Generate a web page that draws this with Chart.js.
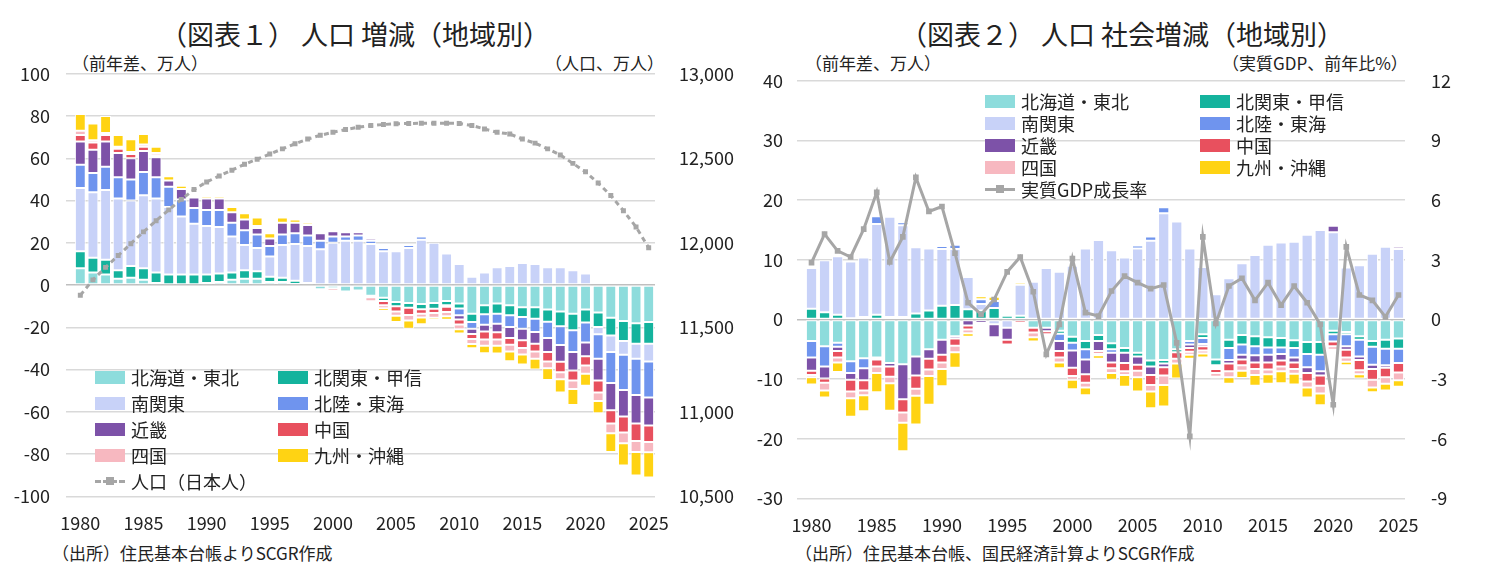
<!DOCTYPE html>
<html>
<head>
<meta charset="utf-8">
<script src="https://cdn.jsdelivr.net/npm/chart.js@4/dist/chart.umd.min.js"></script>
<style>
  body { margin: 0; width: 1499px; height: 583px; background: #fff; position: relative; overflow: hidden;
         font-family: "Noto Sans CJK JP", "Noto Sans", sans-serif; color: #222; }
  .t { position: absolute; white-space: nowrap; }
  .title { font-size: 27px; top: 14px; }
  .sub { font-size: 17px; top: 50px; }
  .src { font-size: 17px; top: 540px; }
  .cv { position: absolute; }
  .lg { position: absolute; font-size: 18px; }
  .lg div { position: absolute; white-space: nowrap; display: flex; align-items: center; }
  .sw { display: inline-block; width: 30px; height: 13px; margin-right: 6px; }
  .ln { display: inline-block; width: 30px; height: 12px; margin-right: 6px; position: relative; }
  .ln:before { content: ""; position: absolute; left: 0; right: 0; top: 5px; border-top: 3px solid #a6a6a6; }
  .ln:after { content: ""; position: absolute; left: 11px; top: 2px; width: 8px; height: 8px; background: #a6a6a6; }
  .ln.d:before { border-top: 3px dashed #a6a6a6; }
</style>
</head>
<body>
<div class="t title" style="left:160px">（図表１） 人口 増減（地域別）</div>
<div class="t title" style="left:900px">（図表２） 人口 社会増減（地域別）</div>
<div class="t sub" style="left:72px">（前年差、万人）</div>
<div class="t sub" style="left:545px">（人口、万人）</div>
<div class="t sub" style="left:805px">（前年差、万人）</div>
<div class="t sub" style="left:1222px">（実質GDP、前年比%）</div>
<div class="t src" style="left:52px">（出所）住民基本台帳よりSCGR作成</div>
<div class="t src" style="left:795px">（出所）住民基本台帳、国民経済計算よりSCGR作成</div>

<div class="cv" style="left:0;top:47px;width:745px;height:495px"><canvas id="c1"></canvas></div>
<div class="cv" style="left:745px;top:52px;width:754px;height:492px"><canvas id="c2"></canvas></div>

<div class="lg" id="lg1" style="left:95px;top:364px"></div>
<div class="lg" id="lg2" style="left:985px;top:88px"></div>

<script>
// 年
const years = [];
for (let y = 1980; y <= 2025; y++) years.push(String(y));

const regions = ['北海道・東北', '北関東・甲信', '南関東', '北陸・東海', '近畿', '中国', '四国', '九州・沖縄'];
const colors = ['#8ddcdc', '#14b39d', '#c8d2f8', '#6f94ee', '#7d52a8', '#e8505e', '#f7b8c0', '#ffd313'];

// 図表１：人口増減（前年差、万人）
const z1Tohoku = [8,6,5,3,3.5,2.5,1,0,0,0, 1,1.5,2.5,3,3,1.5,1.5,0.5,-0.3,-2, -1.5,-3,-2.5,-5,-6,-8,-8.5,-9,-8.5,-7.5, -8.7,-13.5,-9.5,-8.7,-9.5,-10.5,-10.5,-11.5,-12.5,-13.5, -11.5,-13,-15.5,-17,-18,-17.5];
const z1KitaKanto = [8,7,7,4,5.5,5.5,5,5,5,5, 4,4,3.5,4,3.5,2.5,2,1.5,1,0, 0,0,0,-0.7,-1.5,-2,-2.2,-2.4,-2.7,-2, -2.4,-4,-4.3,-4.8,-4.8,-4.6,-5.4,-5.9,-7,-7.9, -6.2,-6.8,-8.3,-9.5,-9.8,-10.3];
const z1MinamiKanto = [30,31,33,34,31,34.5,35,32,27.5,24, 23,22,17,12,11,9.5,15.5,17.5,17.5,17, 20,21,21,19.5,16,16,17.5,21.5,20,15, 10,4,6,8.5,9,10.5,10,8.5,8.5,7, 5.5,-3.5,-7.9,-6.5,-7.1,-8.4];
const z1Hokuriku = [11,9,11,10,10,11,10,9.5,8,7.5, 7.5,8,6.5,7,6.5,5,5,5,5,4, 3,2,2.5,1.5,1.5,1,1.5,1.5,0,-0.8, -3.2,-3.2,-5,-4.8,-5.5,-5.5,-6.3,-7.6,-8.9,-10.3, -9.5,-11.6,-14.6,-16.7,-17.1,-17];
const z1Kinki = [11,11,12,11.5,10,10,9.5,3,5,5, 5.5,5.5,5,5,3,3.5,5.5,5,5,3.5, 2.5,2,1.5,1,0,0,0,0,0,0, -2,-2.4,-3.2,-4,-5.2,-5.5,-5.5,-6.7,-7.9,-8.7, -6.5,-10.3,-12.9,-12.5,-13.5,-13.2];
const z1Chugoku = [3,3.5,3,2,2,2,1,0,0,0, 0,0,0,0,0.5,0,0,0,0,-0.5, -1,-1,-0.5,0,-2,-2.5,-3.5,-2.2,-2,-2.4, -2.4,-2.4,-3.8,-3.5,-3.2,-3.7,-3.7,-4.4,-5,-4.8, -4.3,-5.6,-6.3,-7.6,-8.3,-7.9];
const z1Shikoku = [2,1,1,1,1,1,1,0,0,0, 0,0,0,0,0.5,0,0,0,0,-0.8, 0,-0.8,-1,-2,-1.5,-2,-2.5,-1.7,-2.3,-2, -2.2,-2.4,-2.9,-2.9,-3.2,-3,-3.5,-3.2,-3.2,-4, -4,-4,-4.6,-5.1,-5.2,-4.8];
const z1Kyushu = [8,8,8,5.5,6,5,3,2,1.5,0.5, 1,1,2.5,3,4,2.5,2.5,1.5,1,1, 0.5,0,0,0,-1.2,-3,-4,-3.2,-1,-1.7, -2,-2,-3.5,-3.7,-4.6,-4.8,-5,-5.6,-6.3,-7.5, -5.6,-5.9,-8.9,-10.5,-11.1,-11.9];
// 人口（日本人、万人）
const population = [11690,11781,11855,11925,11995,12065,12131,12195,12257,12315, 12360,12396,12430,12465,12495,12525,12556,12586,12614,12636, 12654,12670,12684,12694,12700,12704,12706,12708,12708,12708, 12706,12694,12674,12654,12644,12614,12590,12556,12520,12470, 12420,12354,12280,12190,12094,11971];

// 図表２：社会増減（前年差、万人）
const s2Tohoku = [-3.6,-4.5,-3.9,-7,-6.5,-6.4,-7.3,-7.5,-6.2,-5, -3.4,-2.8,0,0,0,0,-0.2,-1.4,-1.4,-1.9, -2.9,-3.6,-2.6,-4,-4.8,-5.6,-6.9,-6.8,-5,-3.6, -2.5,-6.7,-3.4,-2.6,-2.8,-3,-3.1,-3.5,-3.8,-3.8, -1.9,-2.1,-2.8,-3.6,-3.4,-3.2];
const s2KitaKanto = [1.8,1.2,0.8,0.2,0.4,0.8,0.4,0.4,1,1.5, 2.3,2.4,1.7,1.5,1.9,0.6,0.6,0,0,-0.5, -1,-1.4,-1,-1,-0.8,-0.6,-1,-0.6,-0.5,0, -0.6,-1,-1.4,-1.6,-1.7,-1.7,-1.6,-1.3,-2,-2.1, -0.6,-0.4,-0.6,-1,-1.5,-1.7];
const s2MinamiKanto = [6.8,8.7,9.8,9.5,10,15.2,16.8,15.4,11.1,10.4, 9.5,9.4,5.4,1.1,-0.8,-1.4,5.2,6.3,8.6,8, 9,11.9,13.3,11.6,10.4,11.9,13.2,17.8,16.4,11.9, 8.8,4.2,6.9,9.4,10.8,12.5,12.9,13,14.2,15, 14.6,8.7,9.1,11,12.2,11.8];
const s2Hokuriku = [-2.8,-3.4,-0.7,-2,-1.7,1.3,0.3,0.5,0,0.3, 0.5,0.7,0.3,0.8,1.2,0,0,0,0.2,-1.2, -1.3,-1.7,0,-0.6,0,0.5,0.7,1,0.2,-0.6, -1,-0.3,-2,-1.7,-1.5,-1.2,-1.1,-1.6,-2.2,-2.8, -1.2,-2,-2.8,-3,-2.8,-2.4];
const s2Kinki = [-2.2,-2,-0.7,-1.1,-2,-0.3,-0.6,-5.9,-3.2,-1.6, -2.5,-0.4,-1,-0.6,-2.2,-2,0,0,-0.6,-1.7, -2.9,-2.5,-1.7,-1.6,-1.7,-1.4,-1.4,-0.6,0,-0.6, -0.4,-0.3,-0.6,-0.8,-1.2,-1.3,-1.1,-0.8,-1,-0.7, 1.1,-0.6,-0.6,-0.7,-0.4,0.4];
const s2Chugoku = [-0.7,-0.7,-1.1,-2,-1.7,-1.2,-1.7,-2.2,-2.2,-1.8, -1.3,-1.2,-0.7,-0.3,0,-0.8,-0.4,-0.8,-0.5,-1.1, -1.4,-1.4,-0.4,-1,-1.4,-1,-1.7,-1.4,-1.1,-0.6, -0.7,-0.7,-1.3,-1,-1.1,-1.2,-1,-1.1,-1.4,-1.7, -0.8,-1.3,-1.7,-1.8,-1.6,-1.6];
const s2Shikoku = [-0.4,-1.3,-0.8,-1.1,-0.8,-1.1,-1.1,-1.7,-1.2,-1.1, -1.1,-1.1,-0.6,-0.3,0,-0.3,0,-0.8,-0.3,-0.8, -0.6,-0.8,-0.3,-0.8,-0.6,-1.1,-1.1,-1.6,-0.8,-0.5, -0.5,-0.6,-1,-0.9,-1,-0.8,-0.8,-0.8,-1,-1.3, -0.6,-0.7,-0.7,-1.3,-1.1,-1.3];
const s2Kyushu = [-1.2,-1.2,-1.6,-3.1,-2.7,-3.2,-4.6,-4.8,-4.8,-4.8, -2.9,-2.6,-0.6,0.5,0.7,0,0.4,-0.7,0,-1, -1.6,-1.3,-0.6,-1.1,-2,-2.4,-2.8,-3.6,-2.5,-0.7, -0.7,-0.3,-1.1,-1.2,-1.8,-1.6,-2,-1.8,-1.7,-2, -0.3,-0.6,-0.7,-0.8,-1.1,-1.1];
// 実質GDP成長率（%）
const gdpGrowth = [2.86,4.29,3.45,3.14,4.54,6.39,2.89,4.15,7.14,5.43, 5.68,3.33,0.84,0.25,1.0,2.39,3.14,1.39,-1.76,-0.25, 3.06,0.34,0.17,1.43,2.18,1.85,1.55,1.73,-1.18,-5.88, 4.15,-0.2,1.68,2.07,0.96,1.85,0.72,1.68,0.84,-0.25, -4.29,3.65,1.23,0.96,0.13,1.23];

const font = { family: '"Noto Sans CJK JP", "Noto Sans", sans-serif', size: 18 };
Chart.defaults.color = '#222';

function barSets(series) {
  return series.map((d, i) => ({
    type: 'bar', label: regions[i], data: d, backgroundColor: colors[i],
    borderColor: '#fff', borderWidth: 1, borderSkipped: false,
    stack: 's', yAxisID: 'y', order: 1,
    barPercentage: 0.86, categoryPercentage: 1
  }));
}

function xAxis() {
  return {
    stacked: true,
    grid: { display: false },
    border: { display: false },
    ticks: {
      font: font, autoSkip: false, maxRotation: 0, padding: 8,
      callback: function (v) { const l = this.getLabelForValue(v); return (+l) % 5 === 0 ? l : ''; }
    }
  };
}

// 図表１
new Chart(document.getElementById('c1'), {
  data: {
    labels: years,
    datasets: [
      ...barSets([z1Tohoku, z1KitaKanto, z1MinamiKanto, z1Hokuriku, z1Kinki, z1Chugoku, z1Shikoku, z1Kyushu]),
      { type: 'line', label: '人口（日本人）', data: population, yAxisID: 'y2', order: 0,
        borderColor: '#a6a6a6', borderWidth: 3, borderDash: [5, 4],
        pointStyle: 'rect', pointRadius: 3.5, pointBackgroundColor: '#a6a6a6', pointBorderWidth: 0 }
    ]
  },
  options: {
    responsive: true, maintainAspectRatio: false, animation: false,
    layout: { padding: { top: 10, bottom: 0, right: 0 } },
    plugins: { legend: { display: false }, tooltip: { enabled: false } },
    scales: {
      x: xAxis(),
      y: {
        stacked: true, min: -100, max: 100,
        afterFit: s => { s.width = 74; },
        border: { display: false },
        grid: { color: c => c.tick.value === 0 ? '#bfbfbf' : '#d9d9d9', lineWidth: 1.5 },
        ticks: { font: font, stepSize: 20, padding: 16 }
      },
      y2: {
        position: 'right', min: 10500, max: 13000,
        afterFit: s => { s.width = 90; },
        border: { display: false },
        grid: { display: false },
        ticks: { font: font, stepSize: 500, padding: 16, callback: v => v.toLocaleString('en-US') }
      }
    }
  }
});

// 図表２
new Chart(document.getElementById('c2'), {
  data: {
    labels: years,
    datasets: [
      ...barSets([s2Tohoku, s2KitaKanto, s2MinamiKanto, s2Hokuriku, s2Kinki, s2Chugoku, s2Shikoku, s2Kyushu]),
      { type: 'line', label: '実質GDP成長率', data: gdpGrowth, yAxisID: 'y2', order: 0,
        borderColor: '#a6a6a6', borderWidth: 3,
        pointStyle: 'rect', pointRadius: 4, pointBackgroundColor: '#a6a6a6', pointBorderWidth: 0 }
    ]
  },
  options: {
    responsive: true, maintainAspectRatio: false, animation: false,
    layout: { padding: { top: 10, bottom: 0, right: 0 } },
    plugins: { legend: { display: false }, tooltip: { enabled: false } },
    scales: {
      x: xAxis(),
      y: {
        stacked: true, min: -30, max: 40,
        afterFit: s => { s.width = 60; },
        border: { display: false },
        grid: { color: c => c.tick.value === 0 ? '#bfbfbf' : '#d9d9d9', lineWidth: 1.5 },
        ticks: { font: font, stepSize: 10, padding: 14 }
      },
      y2: {
        position: 'right', min: -9, max: 12,
        afterFit: s => { s.width = 94; },
        border: { display: false },
        grid: { display: false },
        ticks: { font: font, stepSize: 3, padding: 18 }
      }
    }
  }
});

// 凡例（HTML）
function legend(id, colGap, rowGap, lineLabel, dashed) {
  const el = document.getElementById(id);
  regions.forEach((r, i) => {
    const d = document.createElement('div');
    d.style.left = (i % 2) * colGap + 'px';
    d.style.top = Math.floor(i / 2) * rowGap + 'px';
    d.innerHTML = `<span class="sw" style="background:${colors[i]}"></span>${r}`;
    el.appendChild(d);
  });
  const d = document.createElement('div');
  d.style.left = '0px';
  d.style.top = 4 * rowGap + 'px';
  d.innerHTML = `<span class="ln${dashed ? ' d' : ''}"></span>${lineLabel}`;
  el.appendChild(d);
}
legend('lg1', 183, 26, '人口（日本人）', true);
legend('lg2', 215, 22, '実質GDP成長率', false);
</script>
</body>
</html>
